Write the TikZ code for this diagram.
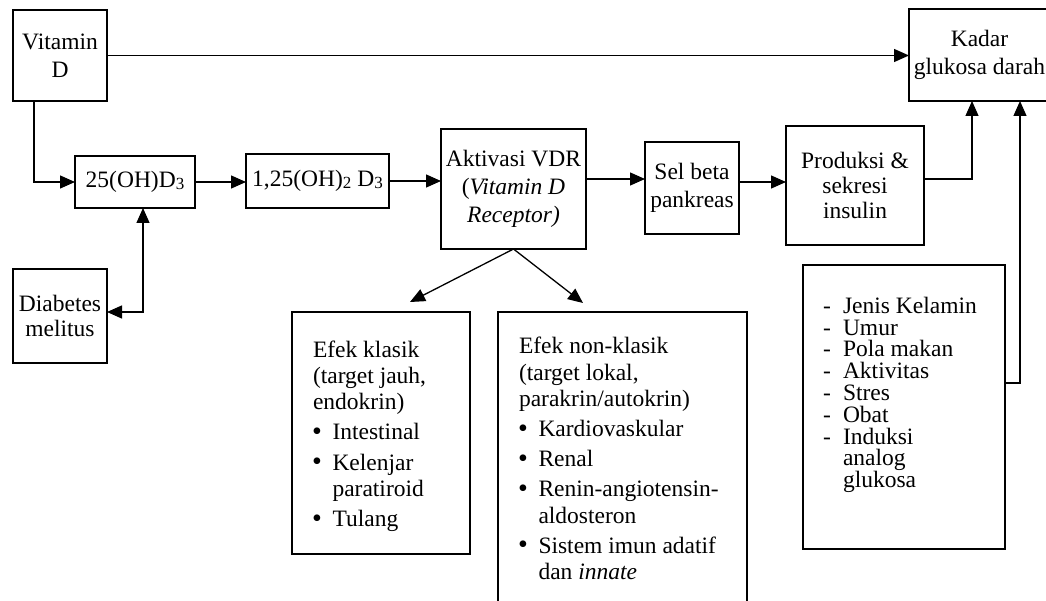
\documentclass[tikz,border=0pt]{standalone}
\usepackage{fontspec}
\setmainfont{Liberation Serif}
\usetikzlibrary{arrows.meta}
\newcommand{\lsub}[1]{\raisebox{-1.5pt}{\fontsize{17}{17}\selectfont #1}}
\newcommand{\bitem}{\makebox[19.5pt][l]{\hspace*{-1pt}\raisebox{-0.5pt}{\fontsize{28}{28}\selectfont •}}}
\newcommand{\bcont}{\hspace*{19.5pt}}
\newcommand{\dsh}{\makebox[20pt][l]{-}}
\begin{document}
\begin{tikzpicture}[x=1pt,y=-1pt,
  box/.style={draw, line width=2.9pt, anchor=north west, align=center, inner sep=0pt, outer sep=0pt, font=\fontsize{23.5}{28}\selectfont},
  txt/.style={anchor=north west, align=left, inner sep=0pt, outer sep=0pt},
  conn/.style={line width=1.3pt, -{Triangle[length=15pt,width=13pt]}},
  conntwo/.style={line width=1.3pt, {Triangle[length=15pt,width=13pt]}-{Triangle[length=15pt,width=13pt]}}]
\useasboundingbox (0,0) rectangle (1046,601);
\fill[white] (0,0) rectangle (1046,601);
\clip (0,0) rectangle (1046,601);

\node[box, minimum width=94pt, minimum height=91pt] (vitd) at (13,10) {Vitamin\\D};
\node[box, minimum width=141pt, minimum height=92pt] (kadar) at (909,9) {Kadar\\glukosa darah};
\node[box, minimum width=120pt, minimum height=52pt] (oh) at (75,156) {25(OH)D\lsub{3}};
\node[box, minimum width=143pt, minimum height=54pt] (oh2) at (246,154) {1,25(OH)\lsub{2} D\lsub{3}};
\node[box, minimum width=94pt, minimum height=94pt, font=\fontsize{23.5}{24.5}\selectfont] (diab) at (13,269) {Diabetes\\melitus};
\node[box, minimum width=145pt, minimum height=120pt] (vdr) at (441,129) {Aktivasi VDR\\(\textit{Vitamin D}\\\textit{Receptor)}};
\node[box, minimum width=94pt, minimum height=92pt] (sel) at (645,142) {Sel beta\\pankreas};
\node[box, minimum width=138pt, minimum height=119pt, font=\fontsize{23.5}{25}\selectfont] (prod) at (786,126) {Produksi \&\\sekresi\\insulin};
\node[box, minimum width=202pt, minimum height=284pt] (faktor) at (803,265) {};
\node[box, minimum width=178pt, minimum height=242pt] (klasik) at (292,312) {};
\node[box, minimum width=249pt, minimum height=300pt] (nonklasik) at (498,312) {};

\node[txt, font=\fontsize{23.5}{26}\selectfont] (klasiktxt) at (313,340.5)
  {Efek klasik\\(target jauh,\\endokrin)\\[4.5pt]\bitem Intestinal\\[4.5pt]\bitem Kelenjar\\\bcont paratiroid\\[4.5pt]\bitem Tulang};
\node[txt, font=\fontsize{23.5}{26.5}\selectfont] (nonklasiktxt) at (519,337)
  {Efek non-klasik\\(target lokal,\\parakrin/autokrin)\\[3.5pt]\bitem Kardiovaskular\\[3.5pt]\bitem Renal\\[3.5pt]\bitem Renin-angiotensin-\\\bcont aldosteron\\[3.5pt]\bitem Sistem imun adatif\\\bcont dan \textit{innate}};
\node[txt, font=\fontsize{23.5}{21.8}\selectfont] (faktortxt) at (823,297)
  {\dsh Jenis Kelamin\\\dsh Umur\\\dsh Pola makan\\\dsh Aktivitas\\\dsh Stres\\\dsh Obat\\\dsh Induksi\\\hspace*{20pt}analog\\\hspace*{20pt}glukosa};

\coordinate (k1) at ([xshift=63pt]kadar.south west);
\coordinate (k2) at ([xshift=111pt]kadar.south west);
\coordinate (t1) at ([xshift=29pt,yshift=10pt]klasik.north);
\coordinate (t2) at ([xshift=-39.5pt,yshift=9pt]nonklasik.north);

\draw[conn] (vitd.east) -- (vitd.east -| kadar.west);
\draw[conn] ([xshift=-26pt]vitd.south) |- (oh.west);
\draw[conn] (oh.east) -- (oh.east -| oh2.west);
\draw[conn] (oh2.east) -- (oh2.east -| vdr.west);
\draw[conn] ([yshift=10pt]vdr.east) -- ([yshift=10pt]vdr.east -| sel.west);
\draw[conn] ([yshift=6pt]sel.east) -- ([yshift=6pt]sel.east -| prod.west);
\draw[conn] ([yshift=6.5pt]prod.east) -| (k1);
\draw[conn] ([yshift=24pt]faktor.east) -| (k2);
\draw[conn] (vdr.south) -- (t1);
\draw[conn] (vdr.south) -- (t2);
\draw[conntwo] ([xshift=8pt]oh.south) |- ([yshift=4pt]diab.east);
\end{tikzpicture}
\end{document}
